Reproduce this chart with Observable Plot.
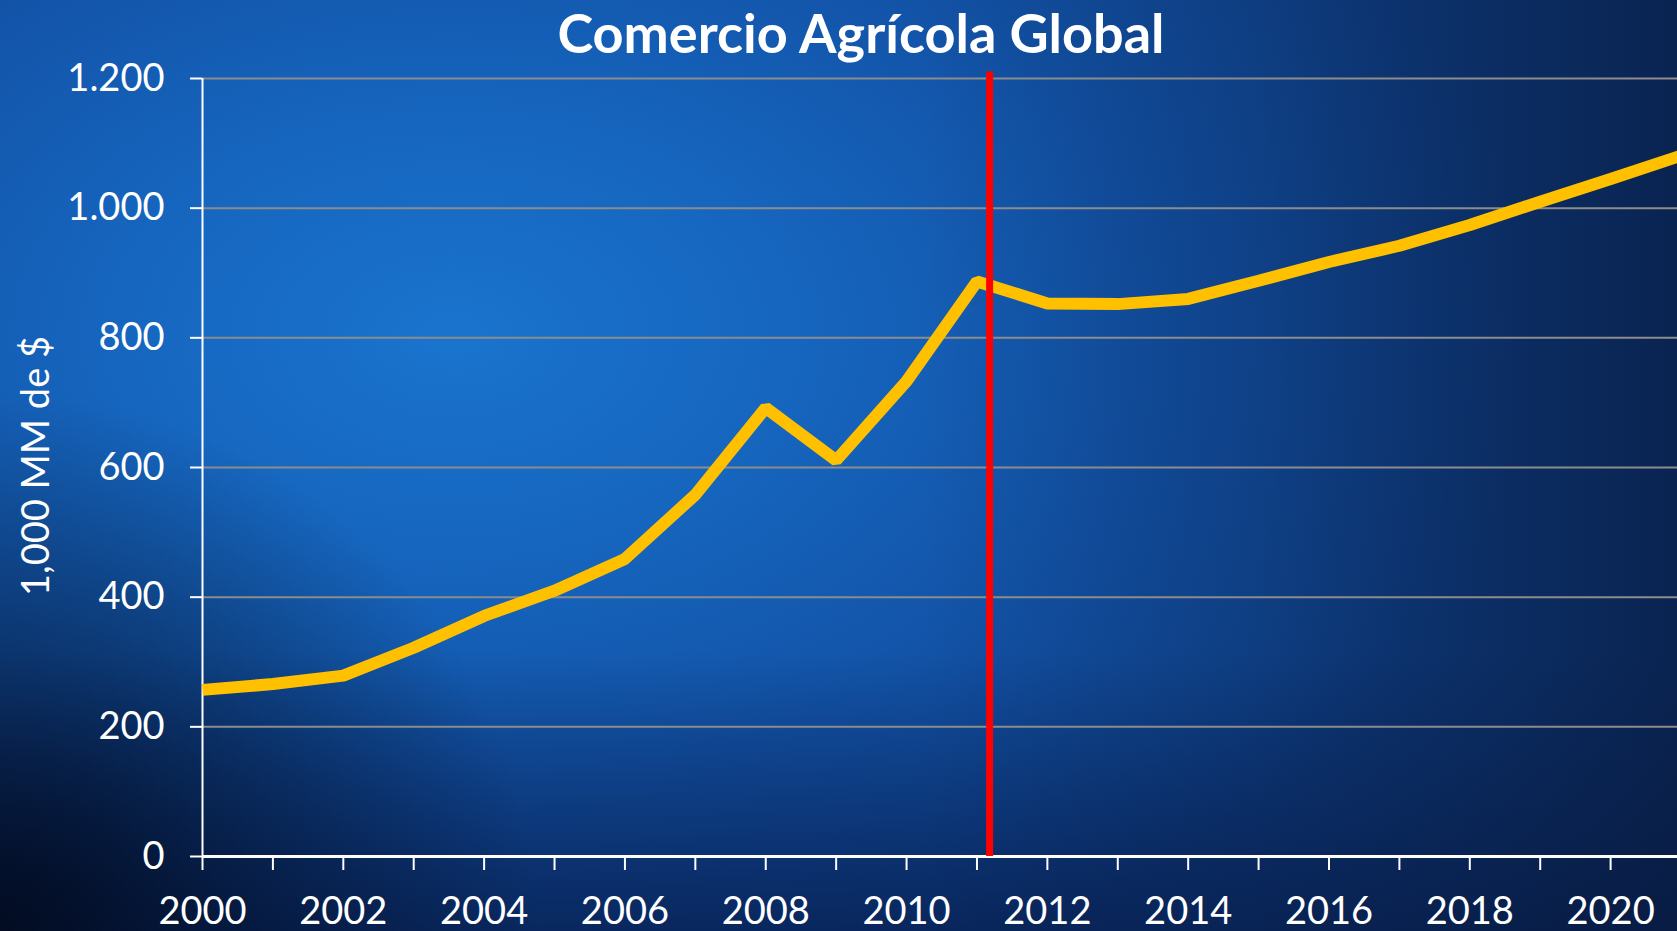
<!DOCTYPE html>
<html>
<head>
<meta charset="utf-8">
<script src="https://cdn.jsdelivr.net/npm/d3@7"></script>
<script src="https://cdn.jsdelivr.net/npm/@observablehq/plot@0.6"></script>
<style>
  html, body { margin: 0; padding: 0; }
  body {
    width: 1677px; height: 931px; overflow: hidden; position: relative;
    font-family: Lato, "Open Sans", sans-serif;
    background:
      radial-gradient(circle at 0% 100%, rgba(2,10,30,0.95) 0%, rgba(2,10,30,0.5) 12%, rgba(2,10,30,0) 28%),
      linear-gradient(to left, rgba(8,25,60,0.75) 0%, rgba(8,25,60,0.25) 25%, rgba(8,25,60,0) 45%),
      linear-gradient(to top, rgba(6,25,70,0.7) 0%, rgba(6,25,70,0) 30%),
      radial-gradient(ellipse 65% 75% at 27% 36%, #1a74cd 0%, #1666bf 30%, #1252a6 65%, #0f4490 100%);
    background-color: #0d3f86;
  }
  #title {
    position: absolute; left: 0; width: 1722px; top: 1px;
    text-align: center; color: white; font-weight: 700;
    font-size: 54px; line-height: 64px; font-family: Lato, "Open Sans", sans-serif;
  }
  #ytitle {
    position: absolute; left: 34px; top: 466px;
    transform: translate(-50%, -50%) rotate(-90deg);
    color: white; font-size: 38px; white-space: nowrap;
    font-family: Lato, "Open Sans", sans-serif;
  }
  #chart { position: absolute; left: 0; top: 0; }
</style>
</head>
<body>
<div id="chart"></div>
<div id="title">Comercio Agrícola Global</div>
<div id="ytitle">1,000 MM de $</div>
<script>
const years = [2000, 2001, 2002, 2003, 2004, 2005, 2006, 2007, 2008, 2009, 2010,
               2011, 2012, 2013, 2014, 2015, 2016, 2017, 2018, 2019, 2020, 2021];
const values = [257, 266, 279, 322, 371, 410, 459, 558, 692, 611, 733,
                887, 853, 852, 860, 888, 917, 942, 974, 1010, 1045, 1081];
const yTicks = [0, 200, 400, 600, 800, 1000, 1200];
const xTickYears = [2000, 2001, 2002, 2003, 2004, 2005, 2006, 2007, 2008, 2009, 2010,
                    2011, 2012, 2013, 2014, 2015, 2016, 2017, 2018, 2019, 2020];
const xLabelYears = [2000, 2002, 2004, 2006, 2008, 2010, 2012, 2014, 2016, 2018, 2020];
const markerYear = [2011.18];
const markerTop = 1210;

const data = years.map((year, i) => ({year, value: values[i]}));
const fmt = d3.formatLocale({decimal: ",", thousands: ".", grouping: [3], currency: ["", "$"]}).format(",");

const chart = Plot.plot({
  width: 1677,
  height: 931,
  marginTop: 78,
  marginBottom: 75,
  marginLeft: 202,
  marginRight: 0,
  style: {background: "transparent", color: "white", fontFamily: "Lato, 'Open Sans', sans-serif", fontSize: "38px", overflow: "visible"},
  x: {domain: [2000, 2020.95]},
  y: {domain: [0, 1200]},
  marks: [
    Plot.gridY(yTicks.filter(d => d > 0), {stroke: "#8c8c8c", strokeOpacity: 1, strokeWidth: 2}),
    Plot.axisY(yTicks, {tickSize: 12, tickPadding: 26, tickFormat: fmt, stroke: "white", strokeWidth: 2, strokeOpacity: 1, label: null, fontSize: 38}),
    Plot.ruleX([2000], {stroke: "white", strokeWidth: 2}),
    Plot.axisX(xTickYears, {tickSize: 14, tickFormat: () => "", stroke: "white", strokeWidth: 2, strokeOpacity: 1, label: null}),
    Plot.axisX(xLabelYears, {tickSize: 0, tickPadding: 41, tickFormat: d => String(d), label: null, fontSize: 38}),
    Plot.ruleY([0], {stroke: "white", strokeWidth: 3}),
    Plot.line(data, {x: "year", y: "value", stroke: "#FFC000", strokeWidth: 12, strokeLinejoin: "miter", strokeLinecap: "butt", clip: true}),
    Plot.ruleX(markerYear, {y1: 0, y2: markerTop, stroke: "#FF0000", strokeWidth: 7})
  ]
});
document.getElementById("chart").appendChild(chart);
</script>
</body>
</html>
